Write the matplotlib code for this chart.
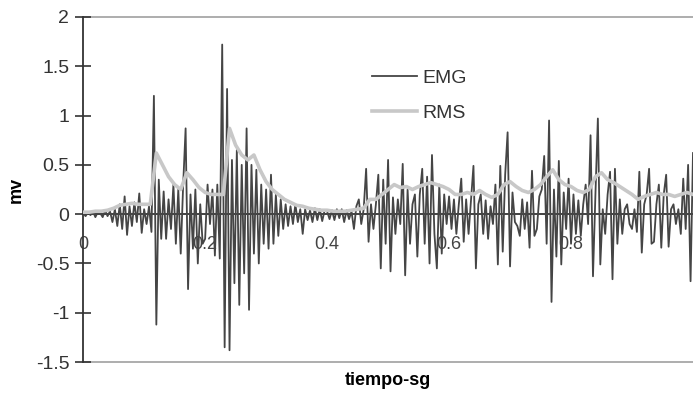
import numpy as np
import matplotlib.pyplot as plt

# EMG samples every 4 ms (mv)
emg_dt = 0.004
emg = [
    # 0.0 - 0.1 s
    0.01, -0.02, 0.02, -0.01, 0.03, -0.03, 0.02, 0.01, -0.03, 0.04,
    -0.02, 0.03, -0.08, 0.05, -0.12, 0.10, -0.15, 0.18, -0.21, 0.08,
    -0.12, 0.12, -0.08, 0.21, -0.19,
    # 0.1 - 0.2 s
    0.05, -0.10, 0.08, -0.18, 1.20, -1.12, 0.35, -0.25, 0.23, -0.25,
    0.15, -0.15, 0.30, -0.30, 0.25, -0.40, 0.30, 0.87, -0.76, 0.20,
    -0.35, 0.25, -0.50, 0.10, -0.30,
    # 0.2 - 0.3 s
    -0.25, 0.30, -0.10, 0.25, -0.42, 0.30, -0.45, 1.72, -1.35, 1.27,
    -1.38, 0.55, -0.70, 0.65, -0.92, 0.50, -0.60, 0.87, -0.97, 0.50,
    -0.40, 0.45, -0.50, 0.30, -0.30,
    # 0.3 - 0.4 s
    0.25, -0.35, 0.40, -0.30, 0.20, -0.22, 0.15, -0.15, 0.10, -0.12,
    0.08, -0.10, 0.10, -0.08, 0.05, -0.20, 0.05, -0.06, 0.04, -0.08,
    0.06, -0.06, 0.05, -0.07, 0.04,
    # 0.4 - 0.5 s
    0.03, -0.05, 0.04, -0.06, 0.05, -0.04, 0.05, -0.08, 0.04, -0.05,
    0.03, -0.15, 0.08, 0.15, -0.10, 0.05, 0.46, -0.28, 0.10, -0.15,
    0.10, 0.40, -0.55, 0.35, -0.30,
    # 0.5 - 0.6 s
    0.55, -0.58, 0.17, -0.20, 0.15, -0.10, 0.51, -0.62, 0.25, -0.30,
    0.10, 0.20, -0.43, 0.20, 0.46, -0.30, 0.38, -0.50, 0.60, -0.20,
    -0.55, 0.30, -0.40, 0.20, -0.10,
    # 0.6 - 0.7 s
    0.18, -0.15, 0.15, -0.20, 0.10, 0.36, -0.28, 0.15, -0.20, 0.14,
    0.49, -0.55, 0.10, 0.20, -0.20, 0.14, -0.25, 0.08, -0.10, 0.30,
    -0.51, 0.49, -0.38, 0.40, 0.83,
    # 0.7 - 0.8 s
    -0.53, 0.22, -0.08, -0.12, -0.22, 0.15, -0.15, 0.12, -0.34, 0.44,
    -0.22, -0.15, 0.18, 0.25, 0.59, -0.30, 0.95, -0.89, 0.25, -0.43,
    0.54, -0.51, 0.22, -0.15, 0.36,
    # 0.8 - 0.9 s
    -0.30, 0.20, -0.20, 0.14, -0.22, 0.10, 0.30, -0.10, 0.80, -0.63,
    0.20, 0.97, -0.51, 0.05, -0.20, 0.20, 0.43, -0.66, 0.46, -0.30,
    0.15, -0.20, 0.05, 0.10, -0.10,
    # 0.9 - 1.0 s
    -0.15, 0.05, -0.18, 0.43, -0.39, 0.10, 0.20, 0.46, -0.30, -0.28,
    0.10, 0.30, -0.34, 0.20, 0.40, -0.33, 0.05, 0.10, -0.10, 0.05,
    -0.20, 0.36, -0.15, 0.50, -0.68, 0.62,
]

# RMS envelope every 10 ms
rms_dt = 0.01
rms = [
    0.02, 0.02, 0.03, 0.03, 0.04, 0.06, 0.09, 0.10, 0.11, 0.10,
    0.10, 0.10, 0.62, 0.50, 0.38, 0.30, 0.25, 0.42, 0.35, 0.27,
    0.22, 0.20, 0.20, 0.20, 0.87, 0.70, 0.60, 0.55, 0.60, 0.45,
    0.33, 0.25, 0.20, 0.15, 0.12, 0.09, 0.08, 0.06, 0.05, 0.04,
    0.04, 0.03, 0.03, 0.03, 0.04, 0.05, 0.06, 0.15, 0.15, 0.20,
    0.25, 0.30, 0.27, 0.28, 0.25, 0.28, 0.30, 0.32, 0.30, 0.28,
    0.25, 0.20, 0.20, 0.22, 0.20, 0.24, 0.20, 0.17, 0.20, 0.30,
    0.33, 0.28, 0.24, 0.22, 0.25, 0.30, 0.38, 0.45, 0.35, 0.30,
    0.28, 0.24, 0.22, 0.25, 0.38, 0.42, 0.35, 0.32, 0.28, 0.24,
    0.20, 0.15, 0.18, 0.20, 0.22, 0.20, 0.20, 0.18, 0.20, 0.22,
    0.20,
]

y_ticks = [-1.5, -1, -0.5, 0, 0.5, 1, 1.5, 2]
y_ticklabels = ["-1.5", "-1", "-0.5", "0", "0.5", "1", "1.5", "2"]
x_ticks = [0, 0.2, 0.4, 0.6, 0.8]
x_ticklabels = ["0", "0.2", "0.4", "0.6", "0.8"]

plt.rcParams["font.family"] = ["Liberation Sans", "DejaVu Sans"]

t_emg = np.arange(len(emg)) * emg_dt
t_rms = np.arange(len(rms)) * rms_dt

fig = plt.figure(figsize=(6.93, 3.94), dpi=100)
ax = fig.add_axes([0.12, 0.081, 0.88, 0.876])

ax.plot(t_emg, emg, color="#454545", lw=1.3, label="EMG", zorder=3)
ax.plot(t_rms, rms, color="#c8c8c8", lw=2.6, label="RMS", zorder=4)

ax.set_xlim(0, 1.0)
ax.set_ylim(-1.5, 2)

# plot area border lines (gray) at top and bottom
ax.axhline(2, color="#a0a0a0", lw=1.2, clip_on=False, zorder=1)
ax.axhline(-1.5, color="#a0a0a0", lw=1.2, clip_on=False, zorder=1)

for s in ["top", "right"]:
    ax.spines[s].set_visible(False)
ax.spines["bottom"].set_position(("data", 0))
ax.spines["bottom"].set_color("#333333")
ax.spines["bottom"].set_linewidth(1.3)
ax.spines["left"].set_color("#333333")
ax.spines["left"].set_linewidth(1.3)

ax.set_yticks(y_ticks)
ax.set_yticklabels(y_ticklabels, fontsize=14, color="#333333")
ax.tick_params(axis="y", direction="inout", length=12, width=1.2,
               color="#333333", pad=4)
ax.set_xticks(x_ticks)
ax.set_xticklabels(x_ticklabels, fontsize=13, color="#444444")
ax.tick_params(axis="x", length=0, pad=16)

ax.set_xlabel("tiempo-sg", fontsize=13, fontweight="bold", labelpad=0)
ax.xaxis.set_label_coords(0.5, -0.028)
ax.set_ylabel("mv", fontsize=13, fontweight="bold", labelpad=8)

ax.legend(loc="upper left", bbox_to_anchor=(0.445, 0.9), frameon=False,
          fontsize=14, handlelength=2.3, handletextpad=0.3,
          labelspacing=0.9, labelcolor="#333333")

fig.savefig("out.png", dpi=100)
